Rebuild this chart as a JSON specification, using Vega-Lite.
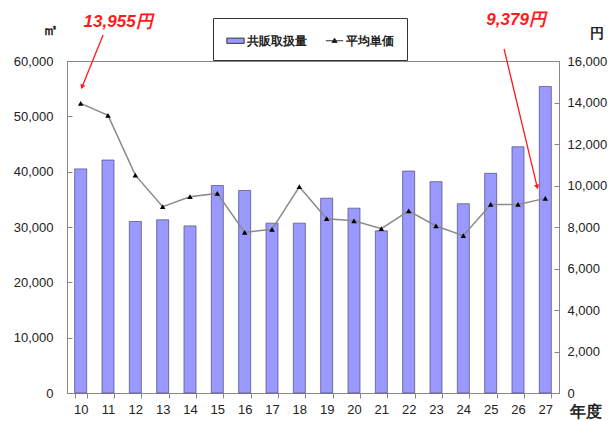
{
  "$schema": "https://vega.github.io/schema/vega-lite/v6.json",
  "width": 492,
  "height": 332,
  "autosize": "none",
  "padding": {"left": 67, "top": 61, "right": 56, "bottom": 28},
  "background": "white",
  "config": {
    "view": {"stroke": "#888888", "strokeWidth": 1},
    "font": "Liberation Sans",
    "axis": {"labelFont": "Liberation Sans", "labelFontSize": 13, "labelColor": "#222222", "domainColor": "#888888", "tickColor": "#888888", "grid": false, "titleFont": "Liberation Sans"}
  },
  "datasets": {
    "main": [
      {"year": 10, "series": "共販取扱量", "value": 40500},
      {"year": 11, "series": "共販取扱量", "value": 42100},
      {"year": 12, "series": "共販取扱量", "value": 31000},
      {"year": 13, "series": "共販取扱量", "value": 31300},
      {"year": 14, "series": "共販取扱量", "value": 30200},
      {"year": 15, "series": "共販取扱量", "value": 37500},
      {"year": 16, "series": "共販取扱量", "value": 36600},
      {"year": 17, "series": "共販取扱量", "value": 30700},
      {"year": 18, "series": "共販取扱量", "value": 30700},
      {"year": 19, "series": "共販取扱量", "value": 35200},
      {"year": 20, "series": "共販取扱量", "value": 33400},
      {"year": 21, "series": "共販取扱量", "value": 29300},
      {"year": 22, "series": "共販取扱量", "value": 40100},
      {"year": 23, "series": "共販取扱量", "value": 38200},
      {"year": 24, "series": "共販取扱量", "value": 34200},
      {"year": 25, "series": "共販取扱量", "value": 39700},
      {"year": 26, "series": "共販取扱量", "value": 44500},
      {"year": 27, "series": "共販取扱量", "value": 55400},
      {"year": 10, "series": "平均単価", "value": 13955},
      {"year": 11, "series": "平均単価", "value": 13380},
      {"year": 12, "series": "平均単価", "value": 10500},
      {"year": 13, "series": "平均単価", "value": 8980},
      {"year": 14, "series": "平均単価", "value": 9460},
      {"year": 15, "series": "平均単価", "value": 9620},
      {"year": 16, "series": "平均単価", "value": 7740},
      {"year": 17, "series": "平均単価", "value": 7890},
      {"year": 18, "series": "平均単価", "value": 9940},
      {"year": 19, "series": "平均単価", "value": 8400},
      {"year": 20, "series": "平均単価", "value": 8300},
      {"year": 21, "series": "平均単価", "value": 7920},
      {"year": 22, "series": "平均単価", "value": 8780},
      {"year": 23, "series": "平均単価", "value": 8050},
      {"year": 24, "series": "平均単価", "value": 7580},
      {"year": 25, "series": "平均単価", "value": 9090},
      {"year": 26, "series": "平均単価", "value": 9090},
      {"year": 27, "series": "平均単価", "value": 9379}
    ],
    "notes": [
      {"label": "13,955円", "x": 11.37, "y": 17900},
      {"label": "9,379円", "x": 25.93, "y": 17980}
    ],
    "arrows": [
      {"id": "a", "x": 10.82, "y": 17250, "x2": 10.05, "y2": 14750},
      {"id": "b", "x": 25.49, "y": 16580, "x2": 26.70, "y2": 9930}
    ]
  },
  "layer": [
    {
      "data": {"name": "main"},
      "layer": [
        {
          "transform": [{"filter": "datum.series === '共販取扱量'"}],
          "mark": {"type": "bar", "stroke": "#4a4a7a", "strokeWidth": 0.7},
          "encoding": {
            "x": {"field": "year", "type": "ordinal", "scale": {"paddingInner": 0.56, "paddingOuter": 0.28},
              "axis": {"title": "年度", "titleX": 502, "titleY": 18, "titleAlign": "left", "titleBaseline": "middle", "titleFontSize": 16, "titleFontWeight": "bold", "titleColor": "#222222", "labelAngle": 0, "tickBand": "extent", "tickSize": 5, "labelPadding": 5, "labelFontSize": 13}},
            "y": {"field": "value", "type": "quantitative", "scale": {"domain": [0, 60000], "nice": false},
              "axis": {"orient": "left", "values": [0, 10000, 20000, 30000, 40000, 50000, 60000], "format": ",d", "tickSize": -5, "labelPadding": 19, "title": "㎡", "titleAngle": 0, "titleX": -17, "titleY": -32, "titleAlign": "center", "titleBaseline": "middle", "titleFontSize": 15, "titleFontWeight": "bold", "titleColor": "#222222"}},
            "color": {"field": "series", "type": "nominal",
              "scale": {"domain": ["共販取扱量", "平均単価"], "range": ["#9999ff", "#000000"]},
              "legend": {"orient": "none", "legendX": 146, "legendY": -43, "direction": "horizontal", "title": null,
                "strokeColor": "#333333", "fillColor": "white", "padding": 13, "labelFontSize": 12, "labelFontWeight": "bold", "labelColor": "#222222",
                "symbolSize": 300, "labelOffset": 2, "columnPadding": 16,
                "symbolType": {"expr": "datum.value === '共販取扱量' ? 'M-1,-0.3H1V0.3H-1Z' : 'M-1,0H1M0,-0.3L0.3,0.2H-0.3Z'"},
                "symbolStrokeColor": "#333333", "symbolStrokeWidth": 1}}
          }
        },
        {
          "transform": [{"filter": "datum.series === '平均単価'"}],
          "mark": {"type": "line", "color": "#8a8a8a", "strokeWidth": 1.5},
          "encoding": {
            "x": {"field": "year", "type": "ordinal"},
            "y": {"field": "value", "type": "quantitative", "scale": {"domain": [0, 16000], "nice": false},
              "axis": {"orient": "right", "values": [0, 2000, 4000, 6000, 8000, 10000, 12000, 14000, 16000], "format": ",d", "tickSize": -5, "labelPadding": 13, "title": "円", "titleAngle": 0, "titleX": 37, "titleY": -28, "titleAlign": "center", "titleBaseline": "middle", "titleFontSize": 14, "titleFontWeight": "bold", "titleColor": "#222222"}}
          }
        },
        {
          "transform": [{"filter": "datum.series === '平均単価'"}],
          "mark": {"type": "point", "shape": "triangle-up", "filled": true, "size": 30, "opacity": 1},
          "encoding": {
            "x": {"field": "year", "type": "ordinal"},
            "y": {"field": "value", "type": "quantitative", "scale": {"domain": [0, 16000], "nice": false}, "axis": null},
            "color": {"field": "series", "type": "nominal"}
          }
        }
      ],
      "resolve": {"scale": {"y": "independent"}}
    },
    {
      "layer": [
        {
          "data": {"name": "arrows"},
          "mark": {"type": "rule", "color": "#ff1a1a", "strokeWidth": 1.3},
          "encoding": {
            "x": {"field": "x", "type": "quantitative", "scale": {"domain": [9.5, 27.5], "nice": false, "zero": false}, "axis": null},
            "y": {"field": "y", "type": "quantitative", "scale": {"domain": [0, 16000], "nice": false}, "axis": null},
            "x2": {"field": "x2"},
            "y2": {"field": "y2"}
          }
        },
        {
          "data": {"name": "arrows"},
          "transform": [{"filter": "datum.id === 'a'"}],
          "mark": {"type": "point", "shape": "triangle-up", "filled": true, "size": 28, "angle": 202, "color": "#ff1a1a", "opacity": 1},
          "encoding": {
            "x": {"field": "x2", "type": "quantitative"},
            "y": {"field": "y2", "type": "quantitative"}
          }
        },
        {
          "data": {"name": "arrows"},
          "transform": [{"filter": "datum.id === 'b'"}],
          "mark": {"type": "point", "shape": "triangle-up", "filled": true, "size": 28, "angle": 167, "color": "#ff1a1a", "opacity": 1},
          "encoding": {
            "x": {"field": "x2", "type": "quantitative"},
            "y": {"field": "y2", "type": "quantitative"}
          }
        },
        {
          "data": {"name": "notes"},
          "mark": {"type": "text", "color": "#ff1a1a", "font": "Liberation Sans", "fontSize": 17, "fontWeight": "bold", "fontStyle": "italic", "align": "center", "baseline": "middle"},
          "encoding": {
            "x": {"field": "x", "type": "quantitative"},
            "y": {"field": "y", "type": "quantitative"},
            "text": {"field": "label"}
          }
        }
      ]
    }
  ],
  "resolve": {"scale": {"x": "independent", "y": "independent"}}
}
